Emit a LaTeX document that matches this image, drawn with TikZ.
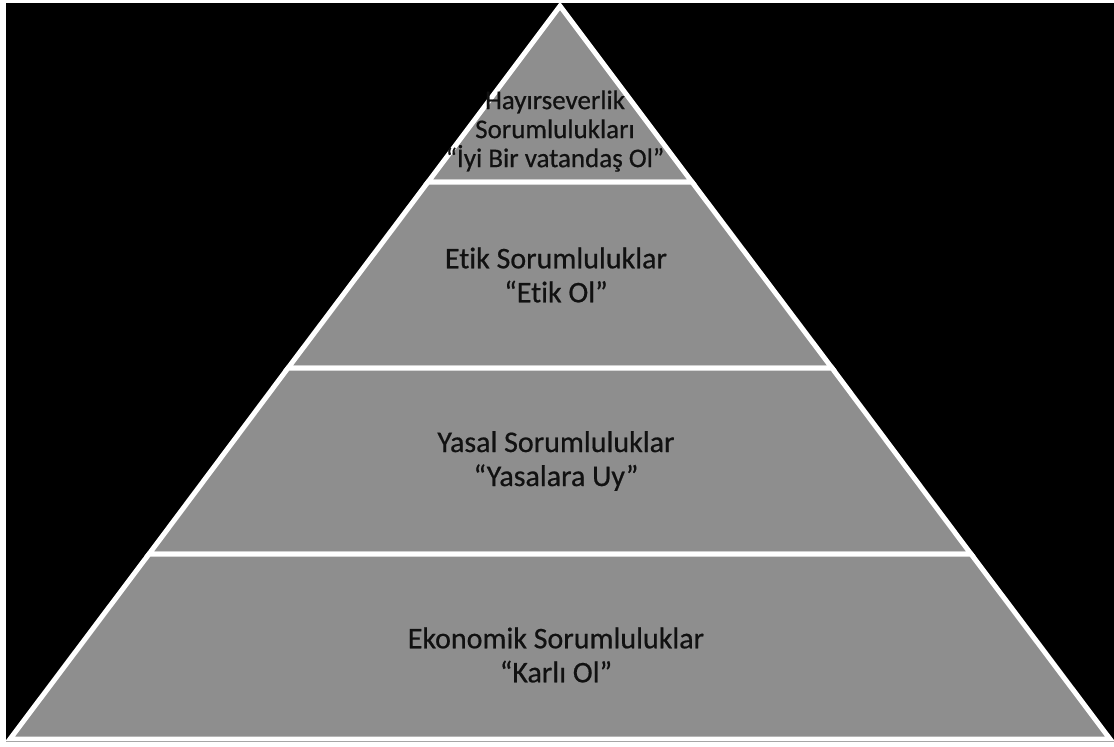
\documentclass[tikz,border=0pt]{standalone}
\usepackage{fontspec}
\setmainfont{Carlito}[Ligatures=NoCommon, FakeBold=0.6]
\definecolor{pyrgray}{HTML}{8E8E8E}
\definecolor{txtdark}{HTML}{111111}
\begin{document}
\begin{tikzpicture}[x=1pt,y=-1pt,
  band/.style={fill=pyrgray, draw=white, line width=5pt, line join=miter},
  lbl/.style={font=\fontsize{30}{34}\selectfont, align=center, text=txtdark},
  toplbl/.style={font=\fontsize{27}{29}\selectfont, align=center, text=txtdark}]
\useasboundingbox (0,0) rectangle (1114,747);
\fill[white] (0,0) rectangle (1114,747);
\fill[black] (6,3) rectangle (1114,742);
% pyramid corners
\coordinate (A)  at (560,6);
\coordinate (L1) at (428,182);  \coordinate (R1) at (692,182);
\coordinate (L2) at (288,368);  \coordinate (R2) at (832,368);
\coordinate (L3) at (149,554);  \coordinate (R3) at (971,554);
\coordinate (L4) at (10,739);   \coordinate (R4) at (1110,739);
% bands
\draw[band] (A) -- (R1) -- (L1) -- cycle;
\draw[band] (L1) -- (R1) -- (R2) -- (L2) -- cycle;
\draw[band] (L2) -- (R2) -- (R3) -- (L3) -- cycle;
\draw[band] (L3) -- (R3) -- (R4) -- (L4) -- cycle;
% labels
\node[toplbl] (hay) at (555,131) {Hayırseverlik\\Sorumlulukları\\“İyi Bir vatandaş Ol”};
\node[lbl] (etik) at (556,275) {Etik Sorumluluklar\\“Etik Ol”};
\node[lbl] (yasal) at (556,461) {Yasal Sorumluluklar\\“Yasalara Uy”};
\node[lbl] (eko) at (556,655) {Ekonomik Sorumluluklar\\“Karlı Ol”};
\end{tikzpicture}
\end{document}
